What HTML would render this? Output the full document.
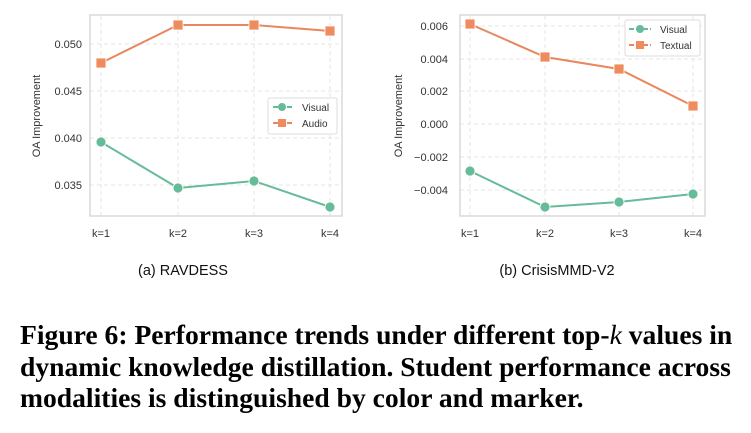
<!DOCTYPE html><html><head><style>
body{margin:0;width:751px;height:433px;background:#fff;overflow:hidden;position:relative}
.cap{position:absolute;left:20px;top:319px;font-family:"Liberation Serif",serif;font-weight:bold;font-size:27.6px;line-height:31.5px;color:#000;white-space:nowrap}
</style></head><body>
<svg width="751" height="300" style="position:absolute;left:0;top:0" font-family="Liberation Sans, sans-serif">
<g stroke="#e6e6e6" stroke-dasharray="4,3" stroke-width="1">
<line x1="101" y1="16" x2="101" y2="216"/><line x1="178" y1="16" x2="178" y2="216"/><line x1="254" y1="16" x2="254" y2="216"/><line x1="330" y1="16" x2="330" y2="216"/>
<line x1="90" y1="44" x2="342" y2="44"/><line x1="90" y1="91" x2="342" y2="91"/><line x1="90" y1="138" x2="342" y2="138"/><line x1="90" y1="185" x2="342" y2="185"/>
<line x1="470" y1="16" x2="470" y2="216"/><line x1="545" y1="16" x2="545" y2="216"/><line x1="619" y1="16" x2="619" y2="216"/><line x1="693" y1="16" x2="693" y2="216"/>
<line x1="460" y1="26" x2="705" y2="26"/><line x1="460" y1="59" x2="705" y2="59"/><line x1="460" y1="91" x2="705" y2="91"/><line x1="460" y1="124" x2="705" y2="124"/><line x1="460" y1="157" x2="705" y2="157"/><line x1="460" y1="190" x2="705" y2="190"/>
</g>
<rect x="90" y="15" width="252" height="201" fill="none" stroke="#d4d4d4" stroke-width="1.3"/>
<rect x="460" y="15" width="245" height="201" fill="none" stroke="#d4d4d4" stroke-width="1.3"/>
<g font-size="11" fill="#333" text-anchor="end">
<text x="82" y="48">0.050</text><text x="82" y="95">0.045</text><text x="82" y="142">0.040</text><text x="82" y="189">0.035</text>
<text x="448" y="30">0.006</text><text x="448" y="63">0.004</text><text x="448" y="95">0.002</text><text x="448" y="128">0.000</text><text x="448" y="161">−0.002</text><text x="448" y="194">−0.004</text>
</g>
<g font-size="11" fill="#333" text-anchor="middle">
<text x="101" y="237">k=1</text><text x="178" y="237">k=2</text><text x="254" y="237">k=3</text><text x="330" y="237">k=4</text>
<text x="470" y="237">k=1</text><text x="545" y="237">k=2</text><text x="619" y="237">k=3</text><text x="693" y="237">k=4</text>
</g>
<text transform="translate(40,116) rotate(-90)" font-size="11" fill="#333" text-anchor="middle">OA Improvement</text>
<text transform="translate(402,116) rotate(-90)" font-size="11" fill="#333" text-anchor="middle">OA Improvement</text>
<polyline points="101,63 178,25 254,25 330,31" fill="none" stroke="#e8875d" stroke-width="2"/>
<polyline points="101,142 178,188 254,181 330,207" fill="none" stroke="#66bb98" stroke-width="2"/>
<polyline points="470,24 545,57 619,69 693,106" fill="none" stroke="#e8875d" stroke-width="2"/>
<polyline points="470,171 545,207 619,202 693,194" fill="none" stroke="#66bb98" stroke-width="2"/>
<g fill="#ee8c60" stroke="#fff" stroke-width="0.8">
<rect x="96" y="58" width="10" height="10"/><rect x="173" y="20" width="10" height="10"/><rect x="249" y="20" width="10" height="10"/><rect x="325" y="26" width="10" height="10"/>
<rect x="465" y="19" width="10" height="10"/><rect x="540" y="52" width="10" height="10"/><rect x="614" y="64" width="10" height="10"/><rect x="688" y="101" width="10" height="10"/>
</g>
<g fill="#66bb98" stroke="#fff" stroke-width="0.8">
<circle cx="101" cy="142" r="5"/><circle cx="178" cy="188" r="5"/><circle cx="254" cy="181" r="5"/><circle cx="330" cy="207" r="5"/>
<circle cx="470" cy="171" r="5"/><circle cx="545" cy="207" r="5"/><circle cx="619" cy="202" r="5"/><circle cx="693" cy="194" r="5"/>
</g>
<rect x="268" y="98" width="69" height="36" rx="2" fill="#fff" fill-opacity="0.85" stroke="#ddd"/>
<line x1="273" y1="107" x2="292" y2="107" stroke="#66bb98" stroke-width="2" stroke-dasharray="5,2"/><circle cx="282" cy="107" r="4" fill="#66bb98"/>
<line x1="273" y1="123" x2="292" y2="123" stroke="#e8875d" stroke-width="2" stroke-dasharray="5,2"/><rect x="278" y="119" width="8" height="8" fill="#ee8c60"/>
<text x="302" y="111" font-size="10" fill="#333">Visual</text><text x="302" y="127" font-size="10" fill="#333">Audio</text>
<rect x="625" y="20" width="75" height="36" rx="2" fill="#fff" fill-opacity="0.85" stroke="#ddd"/>
<line x1="629" y1="29" x2="651" y2="29" stroke="#66bb98" stroke-width="2" stroke-dasharray="5,2"/><circle cx="640" cy="29" r="4" fill="#66bb98"/>
<line x1="629" y1="45" x2="651" y2="45" stroke="#e8875d" stroke-width="2" stroke-dasharray="5,2"/><rect x="636" y="41" width="8" height="8" fill="#ee8c60"/>
<text x="660" y="33" font-size="10" fill="#333">Visual</text><text x="660" y="49" font-size="10" fill="#333">Textual</text>
<text x="183" y="275" font-size="14.5" fill="#111" text-anchor="middle">(a) RAVDESS</text>
<text x="557" y="275" font-size="14.5" fill="#111" text-anchor="middle">(b) CrisisMMD-V2</text>
</svg>
<div class="cap">Figure 6: Performance trends under different top-<i style="font-weight:normal">k</i> values in<br>dynamic knowledge distillation. Student performance across<br>modalities is distinguished by color and marker.</div>
</body></html>
